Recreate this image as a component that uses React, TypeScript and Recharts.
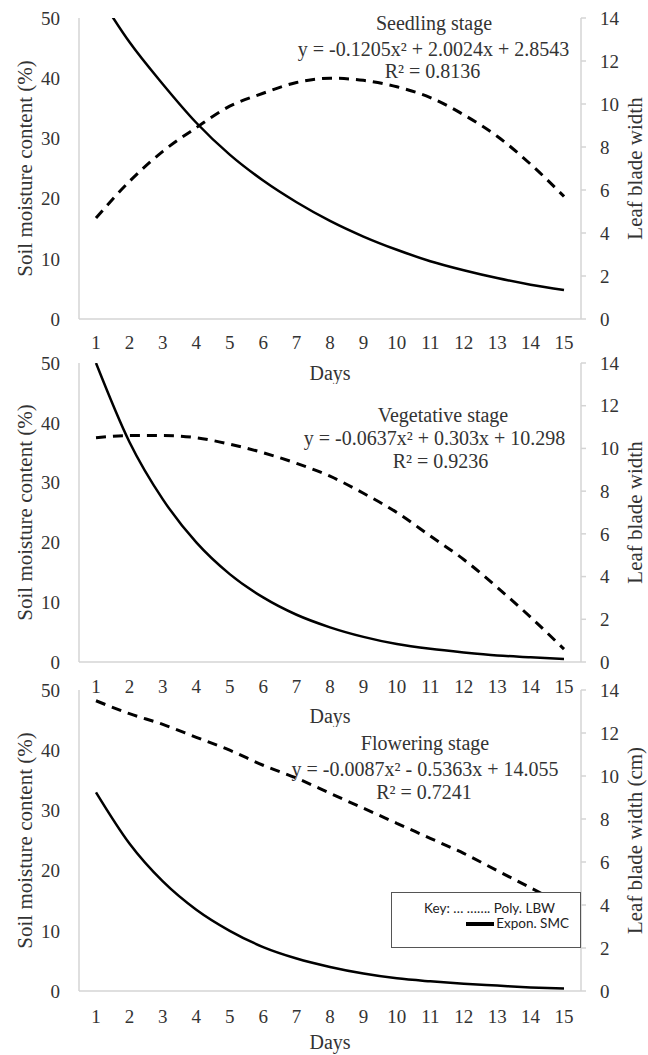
import React from 'react';
import { ComposedChart, Line, XAxis, YAxis, Legend, Customized } from 'recharts';

// ---------- data ----------
const days = [1, 2, 3, 4, 5, 6, 7, 8, 9, 10, 11, 12, 13, 14, 15];

const seedlingSMC = [54.5, 46.0, 39.0, 32.6, 27.3, 23.0, 19.4, 16.3, 13.7, 11.5, 9.6, 8.1, 6.8, 5.7, 4.8];
const seedlingLBW = [4.7, 6.4, 7.8, 8.9, 9.9, 10.5, 11.0, 11.2, 11.1, 10.8, 10.3, 9.5, 8.5, 7.2, 5.7];

const vegetativeSMC = [50.0, 36.8, 27.2, 20.0, 14.7, 10.8, 7.9, 5.8, 4.2, 3.0, 2.2, 1.6, 1.1, 0.8, 0.5];
const vegetativeLBW = [10.5, 10.6, 10.6, 10.5, 10.2, 9.8, 9.3, 8.7, 7.9, 7.0, 5.9, 4.8, 3.5, 2.1, 0.6];

const floweringSMC = [33.0, 24.5, 18.2, 13.5, 10.0, 7.3, 5.4, 4.0, 2.9, 2.1, 1.6, 1.2, 0.9, 0.6, 0.4];
const floweringLBW = [13.5, 12.9, 12.4, 11.8, 11.2, 10.5, 9.9, 9.2, 8.5, 7.8, 7.1, 6.4, 5.6, 4.8, 4.0];

const smcTicks = [0, 10, 20, 30, 40, 50];
const lbwTicks = [0, 2, 4, 6, 8, 10, 12, 14];

const stageTexts = [
  ['Seedling stage', 'y = -0.1205x\u00B2 + 2.0024x + 2.8543', 'R\u00B2 = 0.8136'],
  ['Vegetative stage', 'y = -0.0637x\u00B2 + 0.303x + 10.298', 'R\u00B2 = 0.9236'],
  ['Flowering stage', 'y = -0.0087x\u00B2 - 0.5363x + 14.055', 'R\u00B2 = 0.7241'],
];

const build = (smc: number[], lbw: number[]) =>
  days.map((d, i) => ({ day: d, smc: smc[i], lbw: lbw[i] }));

// ---------- styles ----------
const SERIF = "'Liberation Serif', 'Times New Roman', Times, serif";
const TXT = '#333';
const GRID = '#d4d4d4';
const W = 648;

type PanelProps = {
  top: number;
  plotH: number;
  axisH: number;
  tickGap: number;
  data: { day: number; smc: number; lbw: number }[];
  texts: string[];
  textX: number[];
  textY: number[];
  rightTitle: string;
  daysOffset: number;
  legend?: boolean;
};

const KeyBox = () => (
  <div
    style={{
      width: 190,
      height: 56,
      boxSizing: 'border-box',
      border: '1px solid #555',
      background: '#fff',
      fontFamily: "Lato, 'Open Sans', sans-serif",
      fontSize: 13.5,
      color: '#222',
      paddingTop: 8,
      lineHeight: '15px',
    }}
  >
    <div style={{ textAlign: 'right', paddingRight: 25, whiteSpace: 'nowrap' }}>Key: … ……. Poly. LBW</div>
    <div style={{ display: 'flex', justifyContent: 'flex-end', alignItems: 'center', paddingRight: 11, height: 15 }}>
      <span style={{ display: 'inline-block', width: 28, height: 4, background: '#000', marginRight: 2 }} />
      <span>Expon. SMC</span>
    </div>
  </div>
);

const Panel = ({ top, plotH, axisH, tickGap, data, texts, textX, textY, rightTitle, daysOffset, legend }: PanelProps) => {
  const marginTop = 18;
  const height = marginTop + plotH + axisH;
  const midY = marginTop + plotH / 2;
  const tickStyle = { fontSize: 19, fill: TXT, fontFamily: SERIF, style: { fontFamily: SERIF } };
  return (
    <div style={{ position: 'absolute', left: 0, top }}>
      <ComposedChart width={W} height={height} data={data} margin={{ top: marginTop, right: 0, bottom: 0, left: 0 }}>
        <XAxis
          dataKey="day"
          type="category"
          height={axisH}
          padding={{ left: 17, right: 17 }}
          axisLine={{ stroke: GRID, strokeWidth: 1.5 }}
          tickLine={false}
          tickSize={0}
          tickMargin={tickGap}
          tick={tickStyle}
          interval={0}
          label={{ value: 'Days', position: 'insideBottom', offset: daysOffset, style: { fontSize: 20, fill: TXT, fontFamily: SERIF } }}
        />
        <YAxis
          yAxisId="left"
          width={79}
          domain={[0, 50]}
          ticks={smcTicks}
          allowDataOverflow
          axisLine={{ stroke: GRID, strokeWidth: 1.5 }}
          tickLine={false}
          tickSize={0}
          tickMargin={19}
          tick={tickStyle}
        />
        <YAxis
          yAxisId="right"
          orientation="right"
          width={67}
          domain={[0, 14]}
          ticks={lbwTicks}
          allowDataOverflow
          axisLine={{ stroke: GRID, strokeWidth: 1.5 }}
          tickLine={{ stroke: GRID, strokeWidth: 1.5 }}
          tickSize={5}
          tickMargin={14}
          tick={{ ...tickStyle, textAnchor: 'start' }}
        />
        <Line
          yAxisId="right"
          dataKey="lbw"
          type="monotone"
          stroke="#000"
          strokeWidth={3}
          strokeDasharray="10 7"
          dot={false}
          activeDot={false}
          isAnimationActive={false}
        />
        <Line
          yAxisId="left"
          dataKey="smc"
          type="monotone"
          stroke="#000"
          strokeWidth={2.5}
          dot={false}
          activeDot={false}
          isAnimationActive={false}
        />
        <Customized
          component={() => (
            <g fill={TXT}>
              <text
                x={32}
                y={midY}
                fontSize={21}
                fontFamily={SERIF}
                style={{ fontFamily: SERIF }}
                textAnchor="middle"
                transform={`rotate(-90, 32, ${midY})`}
              >
                Soil moisture content (%)
              </text>
              <text
                x={642}
                y={midY}
                fontSize={21}
                fontFamily={SERIF}
                style={{ fontFamily: SERIF }}
                textAnchor="middle"
                transform={`rotate(-90, 642, ${midY})`}
              >
                {rightTitle}
              </text>
              {texts.map((t, i) => (
                <text
                  key={i}
                  x={textX[i]}
                  y={textY[i]}
                  fontSize={20}
                  fontFamily={SERIF}
                  style={{ fontFamily: SERIF }}
                  textAnchor="middle"
                >
                  {t}
                </text>
              ))}
            </g>
          )}
        />
        {legend && (
          <Legend
            layout="vertical"
            align="center"
            verticalAlign="middle"
            content={() => <KeyBox />}
            wrapperStyle={{ position: 'absolute', left: 391, top: 220, width: 190, height: 56, margin: 0 }}
          />
        )}
      </ComposedChart>
    </div>
  );
};

export default function App() {
  return (
    <div style={{ position: 'absolute', left: 0, top: 0, width: W, height: 1055, background: '#fff', overflow: 'hidden' }}>
      <Panel
        top={0}
        plotH={301}
        axisH={65}
        tickGap={17}
        data={build(seedlingSMC, seedlingLBW)}
        texts={stageTexts[0]}
        textX={[434, 433.5, 432.5]}
        textY={[30, 56, 78]}
        rightTitle="Leaf blade width"
        daysOffset={4}
      />
      <Panel
        top={345}
        plotH={299}
        axisH={65}
        tickGap={18}
        data={build(vegetativeSMC, vegetativeLBW)}
        texts={stageTexts[1]}
        textX={[443, 434.5, 440.5]}
        textY={[76.5, 100, 123]}
        rightTitle="Leaf blade width"
        daysOffset={4}
      />
      <Panel
        top={672}
        plotH={301}
        axisH={64}
        tickGap={18.5}
        data={build(floweringSMC, floweringLBW)}
        texts={stageTexts[2]}
        textX={[425, 425, 424]}
        textY={[78, 104, 126.5]}
        rightTitle="Leaf blade width (cm)"
        daysOffset={6}
        legend
      />
    </div>
  );
}
